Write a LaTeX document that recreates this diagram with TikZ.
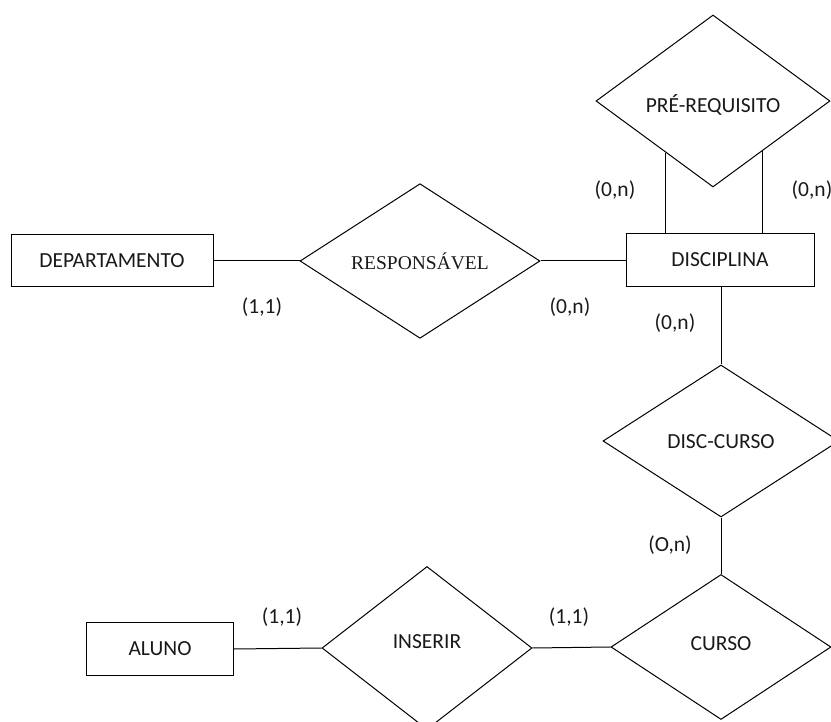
\documentclass[tikz,border=0pt]{standalone}
\usepackage{fontspec}
\setmainfont{Carlito}
\newfontfamily\relserif{Liberation Serif}
\usetikzlibrary{shapes.geometric,calc}
\begin{document}
\begin{tikzpicture}[x=1pt,y=-1pt,
  line width=1pt,
  every node/.style={text=black!90, font=\fontsize{21.5}{25}\selectfont},
  entity/.style={draw, rectangle, inner sep=0pt},
  relation/.style={draw, diamond, inner sep=0pt, aspect=1},
  card/.style={inner sep=0pt}]
\useasboundingbox (0,0) rectangle (831,722);

% entities
\node[entity, minimum width=202pt, minimum height=52pt] (dep) at (112,261) {DEPARTAMENTO};
\node[entity, minimum width=188pt, minimum height=53pt] (disc) at (720,260) {DISCIPLINA};
\node[entity, minimum width=147pt, minimum height=53pt] (aluno) at (160,649) {ALUNO};

% relationships (text height/depth nudge the labels inside the diamonds)
\node[relation, minimum width=240pt, minimum height=154pt,
      font=\relserif\fontsize{19.5}{22}\selectfont] (resp) at (420,261) {RESPONSÁVEL};
\node[relation, minimum width=234pt, minimum height=172pt,
      text height=28pt, text depth=5pt] (pre) at (713,101) {PRÉ-REQUISITO};
\node[relation, minimum width=236pt, minimum height=152pt,
      text height=19pt, text depth=5pt] (discc) at (721,441) {DISC-CURSO};
\node[relation, minimum width=220pt, minimum height=145pt,
      text height=15pt, text depth=9pt] (curso) at (721,647) {CURSO};
\node[relation, minimum width=210pt, minimum height=163pt,
      text height=15pt, text depth=15pt] (ins) at (427,648) {INSERIR};

% points where the self-relationship legs meet the diamond
\coordinate (preL) at ($(pre.west)!0.598!(pre.south)$);
\coordinate (preR) at ($(pre.south)!0.419!(pre.east)$);

% connectors
\draw (dep.east) -- (resp.west);
\draw (resp.east) -- (resp.east -| disc.west);
\draw (preL) -- (preL |- disc.north);
\draw (preR) -- (preR |- disc.north);
\draw (disc.south -| discc.north) -- (discc.north);
\draw (discc.south) -- (curso.north);
\draw (aluno.east) -- (ins.west);
\draw (ins.east) -- (curso.west);

% cardinalities
\node[card] (c1) at (615,190) {(0,n)};
\node[card] (c2) at (812,190) {(0,n)};
\node[card] (c3) at (262,307) {(1,1)};
\node[card] (c4) at (570,307) {(0,n)};
\node[card] (c5) at (675,323) {(0,n)};
\node[card] (c6) at (670,545) {(O,n)};
\node[card] (c7) at (282,617) {(1,1)};
\node[card] (c8) at (569,617) {(1,1)};
\end{tikzpicture}
\end{document}
